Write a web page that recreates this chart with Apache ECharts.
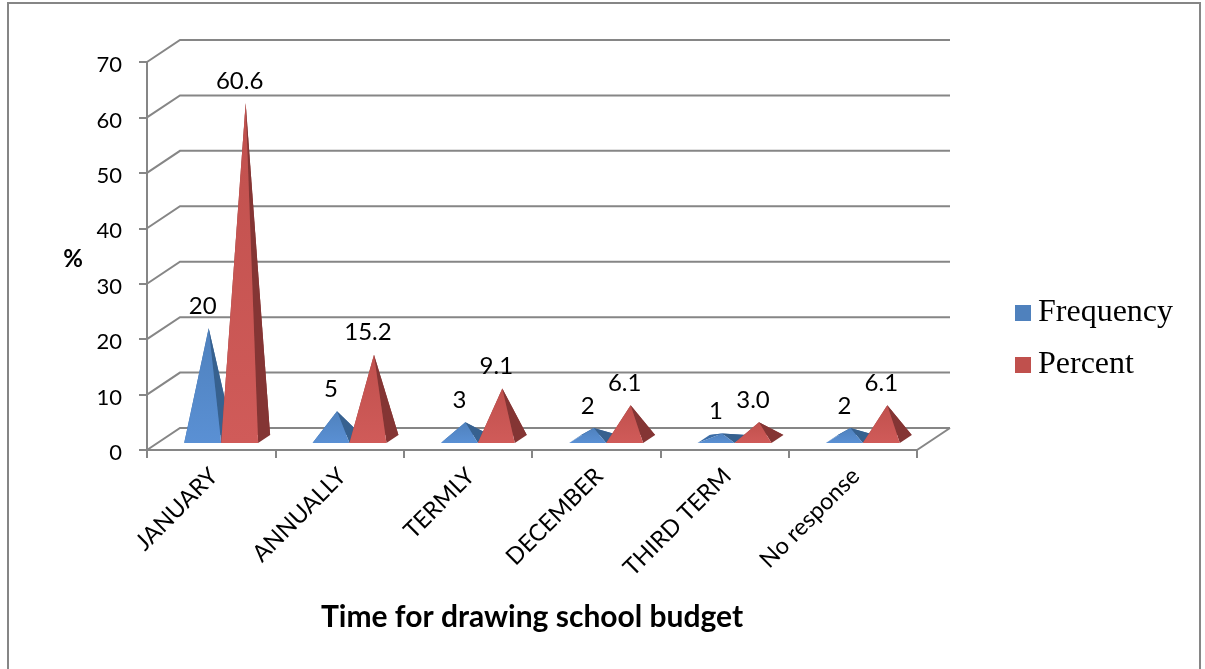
<!DOCTYPE html>
<html>
<head>
<meta charset="utf-8">
<style>html,body{margin:0;padding:0;background:#fff}#chart{width:1205px;height:669px}</style>
<script src="https://cdn.jsdelivr.net/npm/echarts@6/dist/echarts.min.js"></script>
</head>
<body>
<div id="chart"></div>
<script>
// Budget timing survey results
const categories = ['JANUARY', 'ANNUALLY', 'TERMLY', 'DECEMBER', 'THIRD TERM', 'No response'];
const frequency = [20, 5, 3, 2, 1, 2];
const percent = [60.6, 15.2, 9.1, 6.1, 3.0, 6.1];
const frequencyLabels = ['20', '5', '3', '2', '1', '2'];
const percentLabels = ['60.6', '15.2', '9.1', '6.1', '3.0', '6.1'];
const yTicks = [0, 10, 20, 30, 40, 50, 60, 70];

// Oblique projection used for the pseudo-3D box
const DEPTH_X = 33, DEPTH_Y = -22;
const GRAY = '#868686';
const LABEL_FONT = 'Lato, "Open Sans", sans-serif';

function renderWall(params, api) {
  const v = api.value(1);
  const base = api.coord([0, v]);
  const left = params.coordSys.x;
  const right = left + params.coordSys.width;
  const y = base[1];
  const lineStyle = { stroke: GRAY, lineWidth: 2, fill: null };
  const children = [{
    type: 'polyline',
    shape: { points: [[left, y], [left + DEPTH_X, y + DEPTH_Y], [right + DEPTH_X, y + DEPTH_Y]] },
    style: lineStyle
  }];
  if (v === 0) {
    children.push({
      type: 'line',
      shape: { x1: right + DEPTH_X, y1: y + DEPTH_Y, x2: right, y2: y },
      style: lineStyle
    });
  }
  return { type: 'group', children };
}

// Builds one four-sided pyramid standing on the floor of the box
function pyramidRenderer(side, colors, labels) {
  return function (params, api) {
    const i = api.value(0);
    const v = api.value(1);
    const top = api.coord([i, v]);
    const floor = api.coord([i, 0]);
    const half = api.size([1, 0])[0] * 0.144;
    const cx = floor[0] + 10 + side * half;
    const fy = floor[1] - 7;
    const fl = [cx - half, fy];
    const fr = [cx + half, fy];
    const br = [fr[0] + 12, fy - 8];
    const bl = [fl[0] + 12, fy - 8];
    const apex = [cx + 6, top[1] - 11];
    const face = (points, fill) => ({ type: 'polygon', shape: { points }, style: { fill } });
    return {
      type: 'group',
      children: [
        face([bl, br, apex], colors.back),
        face([fl, bl, apex], colors.back),
        face([fr, br, apex], colors.side),
        face([fl, fr, apex], {
          type: 'linear', x: 0, y: 0, x2: 0, y2: 1,
          colorStops: [{ offset: 0, color: colors.top }, { offset: 1, color: colors.bottom }]
        }),
        {
          type: 'text',
          z2: 10,
          style: {
            x: apex[0] - 6,
            y: apex[1] - 22,
            text: labels[params.dataIndex],
            fill: '#000',
            font: '24px ' + LABEL_FONT,
            align: 'center',
            verticalAlign: 'middle'
          }
        }
      ]
    };
  };
}

const chart = echarts.init(document.getElementById('chart'), null, { renderer: 'canvas' });
chart.setOption({
  animation: false,
  backgroundColor: '#fff',
  graphic: [{
    type: 'polyline',
    silent: true,
    shape: { points: [[8, 669], [8, 3], [1200, 3], [1200, 669]] },
    style: { stroke: GRAY, lineWidth: 2, fill: null }
  }],
  grid: { left: 147, right: 288, top: 62, bottom: 219 },
  legend: {
    left: 1010,
    top: 292,
    orient: 'vertical',
    itemWidth: 16,
    itemHeight: 16,
    itemGap: 20,
    icon: 'rect',
    data: ['Frequency', 'Percent'],
    textStyle: { fontFamily: '"Liberation Serif", serif', fontSize: 32, color: '#000', padding: [0, 0, 0, 2] }
  },
  xAxis: {
    type: 'category',
    data: categories,
    name: 'Time for drawing school budget',
    nameLocation: 'middle',
    nameGap: 152,
    nameTextStyle: { fontFamily: LABEL_FONT, fontSize: 30, fontWeight: 'bold', color: '#000' },
    axisLine: { lineStyle: { color: GRAY, width: 2 } },
    axisTick: { show: true, length: 8, lineStyle: { color: GRAY, width: 2 } },
    axisLabel: { rotate: 45, margin: 25, padding: [0, -4, 0, 0], interval: 0, fontFamily: LABEL_FONT, fontSize: 23.5, color: '#000' },
    splitLine: { show: false }
  },
  yAxis: {
    type: 'value',
    min: 0,
    max: 70,
    interval: 10,
    name: '{mark|%}',
    nameLocation: 'middle',
    nameRotate: 0,
    nameGap: 64,
    nameTextStyle: {
      rich: { mark: { fontFamily: LABEL_FONT, fontSize: 24, fontWeight: 'bold', color: '#000', padding: [6, 0, 0, 0] } }
    },
    axisLine: { show: true, lineStyle: { color: GRAY, width: 2 } },
    axisTick: { show: true, length: 8, lineStyle: { color: GRAY, width: 2 } },
    axisLabel: {
      margin: 25,
      formatter: '{tick|{value}}',
      rich: { tick: { fontFamily: LABEL_FONT, fontSize: 22, color: '#000', padding: [6, 0, 0, 0] } }
    },
    splitLine: { show: false }
  },
  series: [
    {
      type: 'custom',
      name: 'wall',
      silent: true,
      clip: false,
      z: 1,
      renderItem: renderWall,
      encode: { x: 0, y: 1 },
      data: yTicks.map(v => [0, v])
    },
    {
      type: 'custom',
      name: 'Frequency',
      clip: false,
      z: 2,
      itemStyle: { color: '#4f81bd' },
      renderItem: pyramidRenderer(-1, { top: '#4f81bd', bottom: '#5a90d4', side: '#37618f', back: '#3b6ca6' }, frequencyLabels),
      encode: { x: 0, y: 1 },
      data: frequency.map((v, i) => [i, v])
    },
    {
      type: 'custom',
      name: 'Percent',
      clip: false,
      z: 3,
      itemStyle: { color: '#c0504d' },
      renderItem: pyramidRenderer(1, { top: '#c0504d', bottom: '#d05b59', side: '#843534', back: '#93403e' }, percentLabels),
      encode: { x: 0, y: 1 },
      data: percent.map((v, i) => [i, v])
    }
  ]
});
</script>
</body>
</html>
